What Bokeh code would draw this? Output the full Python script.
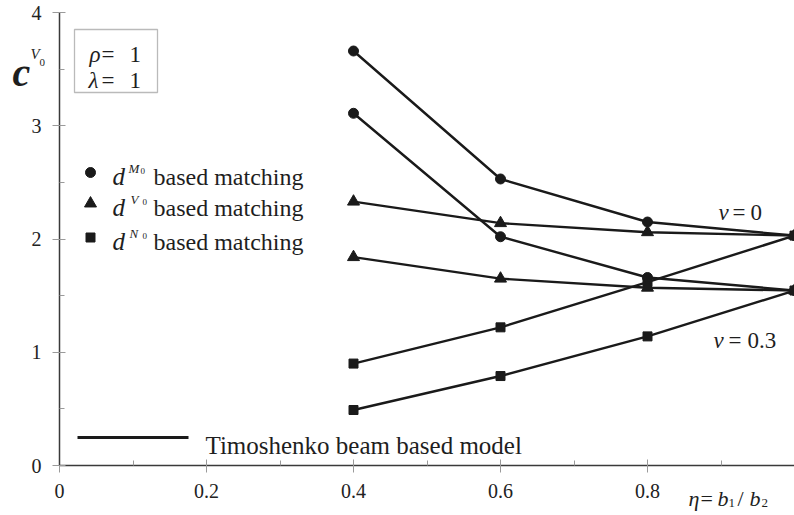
from bokeh.plotting import figure
from bokeh.models import Label, BoxAnnotation, FixedTicker, Range1d
from bokeh.embed import file_html
from bokeh.resources import INLINE

# ---------------- data ----------------
eta = [0.4, 0.6, 0.8, 1.0]
# nu = 0
dM_nu0 = [3.66, 2.53, 2.15, 2.03]
dV_nu0 = [2.33, 2.14, 2.06, 2.03]
dN_nu0 = [0.90, 1.22, 1.62, 2.03]
# nu = 0.3
dM_nu03 = [3.11, 2.02, 1.66, 1.545]
dV_nu03 = [1.84, 1.65, 1.57, 1.545]
dN_nu03 = [0.49, 0.79, 1.14, 1.545]

x_ticks = [0, 0.2, 0.4, 0.6, 0.8, 1.0]
x_tick_labels = ["0", "0.2", "0.4", "0.6", "0.8", ""]
x_minor = [0.1, 0.3, 0.5, 0.7, 0.9]
y_ticks = [0, 1, 2, 3, 4]
y_tick_labels = ["0", "1", "2", "3", "4"]
y_minor = [0.5, 1.5, 2.5, 3.5]

FONT = "Liberation Serif"
INK = "#1a1a1a"

W, H = 794, 515
# page-pixel geometry of the reference frame
X0, X1, Y0, YT = 59.0, 794.0, 465.0, 12.0
def dx(px):
    return (px - X0) / (X1 - X0)
def dy(py):
    return (Y0 - py) / (Y0 - YT) * 4.0

p = figure(width=W, height=H, output_backend="svg", toolbar_location=None,
           x_range=Range1d(dx(0), dx(W)), y_range=Range1d(dy(H), dy(0)),
           min_border=0, min_border_left=0, min_border_right=0,
           min_border_top=0, min_border_bottom=0)
p.outline_line_color = None
p.grid.visible = False
p.background_fill_color = "white"
p.border_fill_color = "white"

for ax in (p.xaxis[0], p.yaxis[0]):
    ax.fixed_location = 0
    ax.axis_line_color = "#3a3a3a"
    ax.axis_line_width = 1.5
    ax.major_tick_line_color = "#9a9a9a"
    ax.minor_tick_line_color = "#9a9a9a"
    ax.major_tick_in = 6
    ax.major_tick_out = 7
    ax.minor_tick_in = 5
    ax.minor_tick_out = 0
    ax.major_label_text_font = FONT
    ax.major_label_text_font_size = "20px"
    ax.major_label_text_color = "#222222"
    ax.major_label_standoff = 11

p.xaxis[0].bounds = (0, 1)
p.yaxis[0].bounds = (0, 4)
p.xaxis[0].ticker = FixedTicker(ticks=x_ticks, minor_ticks=x_minor)
p.xaxis[0].major_label_overrides = {t: s for t, s in zip(x_ticks, x_tick_labels)}
p.yaxis[0].ticker = FixedTicker(ticks=y_ticks, minor_ticks=y_minor)
p.yaxis[0].major_label_overrides = {t: s for t, s in zip(y_ticks, y_tick_labels)}

series = [
    (dM_nu0, "circle", 10), (dV_nu0, "triangle", 12), (dN_nu0, "square", 9),
    (dM_nu03, "circle", 10), (dV_nu03, "triangle", 12), (dN_nu03, "square", 9),
]
for ys, mk, sz in series:
    p.line(eta, ys, line_color=INK, line_width=2.4)
for ys, mk, sz in series:
    p.scatter(eta, ys, marker=mk, size=sz, fill_color=INK, line_color=INK)

def lab(text, px, py, size, style="normal", align="left", baseline="alphabetic"):
    p.add_layout(Label(x=dx(px), y=dy(py), text=text, text_font=FONT,
                       text_font_size=f"{size}px", text_font_style=style,
                       text_align=align, text_baseline=baseline,
                       text_color="#1e1e1e"))

# y-axis title c^{V0}
lab("c", 12, 72, 40, "bold italic")
lab("V", 30, 53, 15, "italic")
lab("0", 39, 62, 11)

# x-axis title eta = b1/b2
lab("η", 688, 498, 22, "italic")
lab("=", 700, 498, 22)
lab("b", 717, 498, 22, "italic")
lab("1", 728, 502, 13)
lab("/", 737, 498, 22)
lab("b", 749, 498, 22, "italic")
lab("2", 761, 502, 13)

# parameter box
p.add_layout(BoxAnnotation(left=dx(74), right=dx(157), top=dy(29), bottom=dy(92),
                           fill_alpha=0, line_color=INK, line_width=1.3))
lab("ρ", 89, 54, 23, "italic")
lab("=", 101, 54, 23)
lab("1", 129, 54, 23)
lab("λ", 88, 80, 23, "italic")
lab("=", 101, 80, 23)
lab("1", 129, 80, 23)

# nu labels
lab("ν", 718, 212, 23, "italic")
lab("=", 732, 212, 23)
lab("0", 750, 212, 23)
lab("ν", 713, 340, 23, "italic")
lab("=", 728, 340, 23)
lab("0.3", 747, 340, 23)

# legend
legend_rows = [("circle", 10, "M", 172, 176, 128, 140),
               ("triangle", 12, "V", 203, 207, 130, 142),
               ("square", 9, "N", 237, 241, 129, 142)]
for mk, sz, sup, my, base, sx, zx in legend_rows:
    p.scatter([dx(90)], [dy(my)], marker=mk, size=sz, fill_color=INK, line_color=INK)
    lab("d", 112, base, 25, "italic")
    lab(sup, sx, base - 8, 13, "italic")
    lab("0", zx, base - 6, 9)
    lab("based matching", 153, base, 24)

p.segment(x0=[dx(77)], y0=[dy(437)], x1=[dx(188)], y1=[dy(437)],
          line_color=INK, line_width=3)
lab("Timoshenko beam based model", 205, 445, 25)

open("out.html", "w").write(file_html(p, INLINE))
